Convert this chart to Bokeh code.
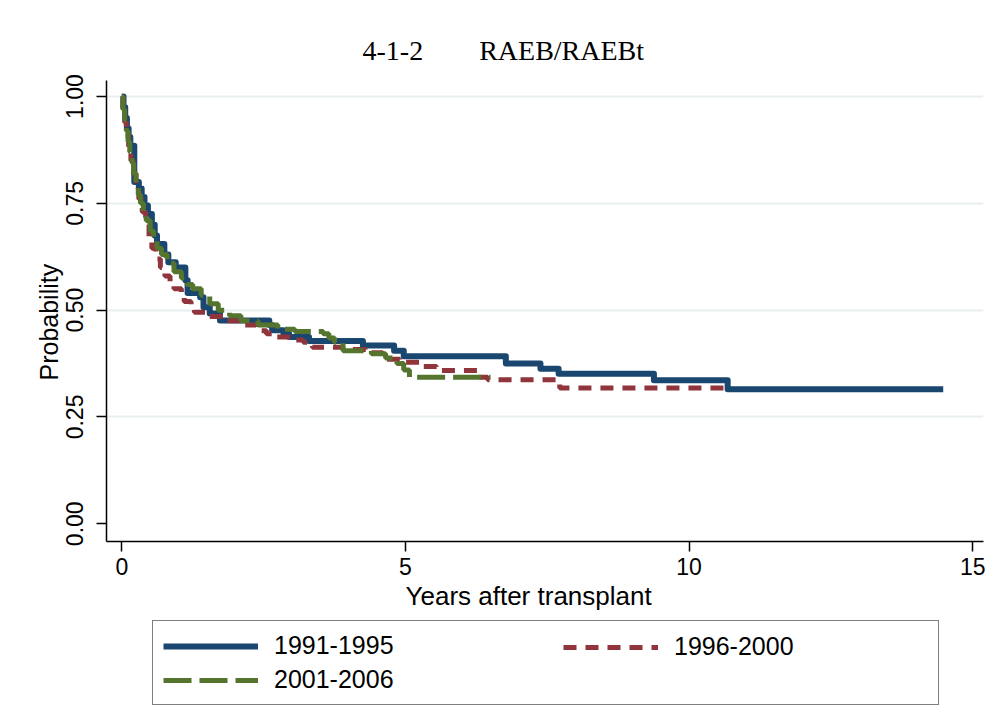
from bokeh.plotting import figure
from bokeh.layouts import column
from bokeh.models import Range1d, FixedTicker, Legend, LegendItem, Title
from bokeh.embed import file_html
from bokeh.resources import INLINE

# ---------------- data ----------------
title_text = "4-1-2\u3000\u3000RAEB/RAEBt"
x_label = "Years after transplant"
y_label = "Probability"
x_ticks = [0, 5, 10, 15]
y_ticks = [0.0, 0.25, 0.5, 0.75, 1.0]
y_tick_labels = ["0.00", "0.25", "0.50", "0.75", "1.00"]
grid_ticks = [0.25, 0.5, 0.75, 1.0]
series_names = ["1991-1995", "1996-2000", "2001-2006"]

t_1991 = [0.00, 0.03, 0.06, 0.09, 0.12, 0.15, 0.22, 0.30, 0.35, 0.40, 0.46, 0.53,
          0.58, 0.62, 0.75, 0.82, 0.95, 1.12, 1.16, 1.38, 1.44, 1.55, 1.73, 2.60,
          2.65, 2.85, 2.95, 3.30, 4.25, 4.80, 4.97, 6.77, 7.38, 7.70, 9.38, 10.68, 14.48]
s_1991 = [1.000, 0.975, 0.950, 0.925, 0.905, 0.885, 0.800, 0.785, 0.765, 0.745, 0.725, 0.700,
          0.675, 0.655, 0.630, 0.612, 0.600, 0.570, 0.540, 0.530, 0.507, 0.492, 0.476, 0.465,
          0.453, 0.445, 0.437, 0.428, 0.417, 0.405, 0.392, 0.375, 0.363, 0.351, 0.336, 0.315, 0.315]

t_1996 = [0.00, 0.02, 0.05, 0.08, 0.12, 0.16, 0.20, 0.25, 0.30, 0.36, 0.42, 0.48,
          0.53, 0.60, 0.68, 0.76, 0.85, 0.92, 1.05, 1.10, 1.22, 1.28, 1.48, 1.80,
          2.05, 2.37, 2.55, 2.68, 3.02, 3.20, 3.36, 3.90, 4.30, 4.60, 4.90, 5.25,
          5.55, 6.28, 6.45, 7.72, 10.76]
s_1996 = [1.000, 0.970, 0.940, 0.910, 0.880, 0.850, 0.820, 0.790, 0.760, 0.730, 0.700, 0.670,
          0.645, 0.620, 0.600, 0.580, 0.565, 0.550, 0.535, 0.520, 0.505, 0.495, 0.485, 0.475,
          0.465, 0.452, 0.445, 0.437, 0.430, 0.425, 0.413, 0.408, 0.400, 0.385, 0.378, 0.368,
          0.359, 0.343, 0.337, 0.318, 0.318]

t_2001 = [0.00, 0.02, 0.05, 0.08, 0.11, 0.14, 0.18, 0.21, 0.25, 0.29, 0.33, 0.38,
          0.43, 0.50, 0.56, 0.62, 0.70, 0.80, 0.92, 1.05, 1.15, 1.25, 1.40, 1.55,
          1.70, 1.90, 2.10, 2.40, 2.75, 3.05, 3.55, 3.65, 3.75, 3.90, 4.40, 4.65,
          4.85, 4.97, 5.07, 6.50]
s_2001 = [1.000, 0.970, 0.945, 0.920, 0.895, 0.870, 0.845, 0.820, 0.795, 0.770, 0.750, 0.730,
          0.710, 0.685, 0.665, 0.645, 0.630, 0.610, 0.590, 0.575, 0.560, 0.550, 0.535, 0.515,
          0.500, 0.487, 0.475, 0.465, 0.455, 0.450, 0.445, 0.435, 0.425, 0.405, 0.398, 0.388,
          0.375, 0.360, 0.343, 0.343]

# ---------------- styling ----------------
BLUE = "#1a476f"
RED = "#90353b"
GREEN = "#55752f"
GRID = "#e8eff1"
SANS = "Liberation Sans"
SERIF = "Liberation Serif"

styles = [dict(line_color=BLUE, line_width=6, line_join="round"),
          dict(line_color=RED, line_width=5, line_dash="13 9"),
          dict(line_color=GREEN, line_width=5, line_dash="28 8")]
series = [(t_1991, s_1991), (t_1996, s_1996), (t_2001, s_2001)]

W = 989
H1 = 618
FL, FT, FW, FH = 106, 80, 877, 461
FR = W - FL - FW

p = figure(width=W, height=H1, output_backend="svg", toolbar_location=None,
           x_range=Range1d(-0.27, 15.19), y_range=Range1d(-0.0415, 1.0375),
           min_border_left=FL, min_border_top=FT,
           min_border_right=FR, min_border_bottom=H1 - FT - FH)
p.outline_line_color = None
p.background_fill_color = "white"
p.border_fill_color = "white"

p.title.text = title_text
p.title.align = "left"
p.title.offset = 256
p.title.standoff = 30
p.title.text_font = SERIF
p.title.text_font_size = "28px"
p.title.text_font_style = "normal"
p.title.text_color = "black"

p.xaxis.ticker = FixedTicker(ticks=x_ticks)
p.yaxis.ticker = FixedTicker(ticks=y_ticks)
p.yaxis.major_label_overrides = {t: l for t, l in zip(y_ticks, y_tick_labels)}
p.yaxis.major_label_orientation = "vertical"
for ax in (p.xaxis, p.yaxis):
    ax.axis_line_color = "black"
    ax.axis_line_width = 1.5
    ax.major_tick_line_color = "black"
    ax.major_tick_line_width = 1.5
    ax.major_tick_in = 0
    ax.major_tick_out = 10
    ax.minor_tick_line_color = None
    ax.major_label_text_font = SANS
    ax.major_label_text_font_size = "23px"
    ax.major_label_text_color = "black"
p.xaxis.major_label_standoff = 6
p.yaxis.major_label_standoff = 13

# axis titles, placed as side-panel titles so their position can follow the reference
p.add_layout(Title(text=x_label, align="left", offset=299, standoff=2,
                   text_font=SANS, text_font_size="26px", text_font_style="normal",
                   text_color="black"), "below")
p.add_layout(Title(text=y_label, align="left", offset=161, standoff=2,
                   text_font=SANS, text_font_size="25px", text_font_style="normal",
                   text_color="black"), "left")

p.xgrid.grid_line_color = None
p.ygrid.ticker = FixedTicker(ticks=grid_ticks)
p.ygrid.grid_line_color = GRID
p.ygrid.grid_line_width = 2

for (t, s), st in zip(series, styles):
    p.step(t, s, mode="after", **st)

# ---------------- legend panel (second figure, same side borders) ----------------
H2 = 98
p2 = figure(width=W, height=H2, output_backend="svg", toolbar_location=None,
            x_range=Range1d(100, 101), y_range=Range1d(100, 101),
            x_axis_location=None, y_axis_location=None,
            min_border_left=FL, min_border_right=FR,
            min_border_top=0, min_border_bottom=0)
p2.grid.visible = False
p2.outline_line_color = None
p2.background_fill_color = "white"
p2.border_fill_color = "white"
leg_r = [p2.step(t, s, mode="after", **st) for (t, s), st in zip(series, styles)]

common = dict(orientation="vertical", margin=0, glyph_width=95, glyph_height=22,
              label_height=22, label_standoff=16, label_text_font=SANS,
              label_text_font_size="25px", label_text_color="black")
leg_a = Legend(items=[LegendItem(label=series_names[0], renderers=[leg_r[0]]),
                      LegendItem(label=series_names[2], renderers=[leg_r[2]])],
               location=(46, 11), padding=10, spacing=5, label_width=654,
               border_line_color="black", border_line_width=1.5,
               background_fill_color="white", background_fill_alpha=1, **common)
leg_b = Legend(items=[LegendItem(label=series_names[1], renderers=[leg_r[1]])],
               location=(457, 55), padding=0, spacing=0,
               border_line_color=None, background_fill_alpha=0, **common)
p2.add_layout(leg_a)
p2.add_layout(leg_b)

layout = column(p, p2, spacing=0)
open("out.html", "w").write(file_html(layout, INLINE))
